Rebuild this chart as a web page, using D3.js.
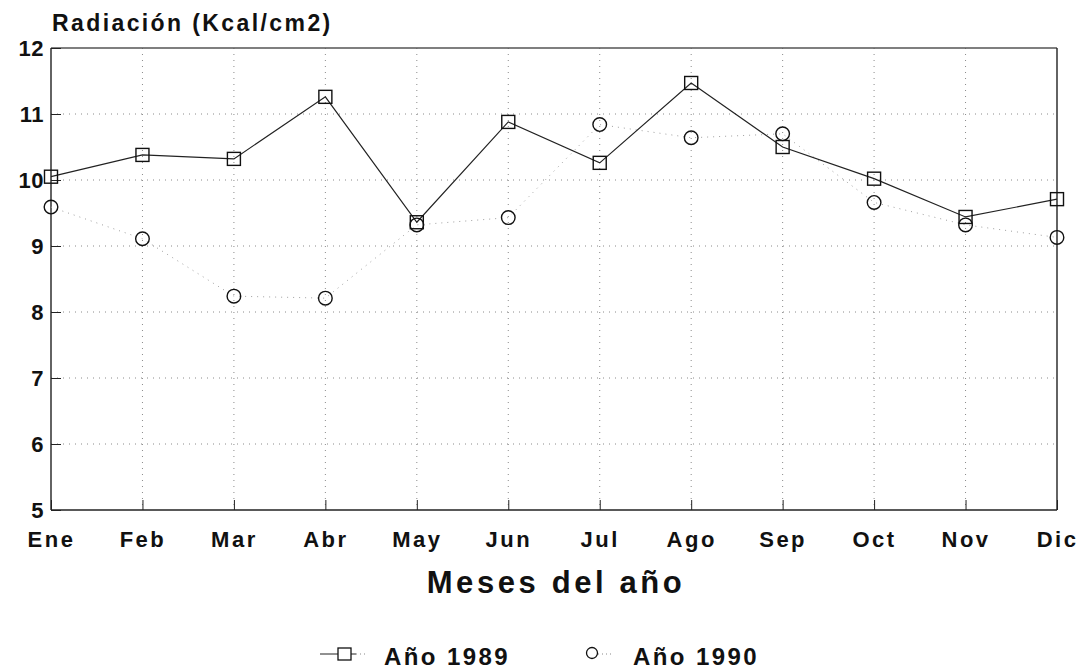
<!DOCTYPE html>
<html><head><meta charset="utf-8">
<script src="https://cdn.jsdelivr.net/npm/d3@7"></script>
<style>body{margin:0;background:#fff}svg{display:block}text{font-family:"Liberation Sans",Arial,sans-serif;fill:#111;font-weight:bold}</style>
</head><body><svg id="c" width="1079" height="669"></svg>
<script>
const months = ["Ene","Feb","Mar","Abr","May","Jun","Jul","Ago","Sep","Oct","Nov","Dic"];
const y1989 = [10.05,10.38,10.32,11.26,9.36,10.88,10.26,11.47,10.50,10.02,9.44,9.71];
const y1990 = [9.59,9.11,8.24,8.21,9.32,9.43,10.84,10.64,10.70,9.66,9.32,9.13];
const yTicks = [5,6,7,8,9,10,11,12];
const seriesNames = ["Año 1989","Año 1990"];

const svg = d3.select("#c");
const L=51,R=1057,T=48,B=510;
const x = d3.scalePoint().domain(months).range([L,R]);
const y = d3.scaleLinear().domain([5,12]).range([B,T]);

// grid
const g = svg.append("g").attr("stroke","#8a8a8a").attr("stroke-width",1).attr("stroke-dasharray","1,5");
g.selectAll(".gy").data(yTicks.slice(1,-1)).join("line")
  .attr("x1",L).attr("x2",R).attr("y1",d=>y(d)).attr("y2",d=>y(d));
g.selectAll(".gx").data(months.slice(1,-1)).join("line")
  .attr("y1",T).attr("y2",B).attr("x1",d=>x(d)).attr("x2",d=>x(d));

// frame
svg.append("line").attr("x1",L).attr("x2",R).attr("y1",T).attr("y2",T).attr("stroke","#555").attr("stroke-width",1.3);
svg.append("line").attr("x1",R).attr("x2",R).attr("y1",T).attr("y2",B).attr("stroke","#222").attr("stroke-width",1.4);
svg.append("line").attr("x1",L).attr("x2",L).attr("y1",T).attr("y2",B).attr("stroke","#222").attr("stroke-width",1.4);
svg.append("line").attr("x1",L).attr("x2",R).attr("y1",B).attr("y2",B).attr("stroke","#222").attr("stroke-width",1.4);

// axes
const ya = d3.axisLeft(y).tickValues(yTicks).tickSize(-10).tickPadding(7).tickFormat(d3.format("d"));
svg.append("g").attr("transform",`translate(${L},0)`).call(ya)
  .call(s=>s.select(".domain").remove())
  .call(s=>s.selectAll("line").attr("stroke","#222"))
  .call(s=>s.selectAll("text").attr("font-size",22).attr("fill","#111").attr("letter-spacing",0.5));
const xa = d3.axisBottom(x).tickSize(-10).tickPadding(21);
svg.append("g").attr("transform",`translate(0,${B})`).call(xa)
  .call(s=>s.select(".domain").remove())
  .call(s=>s.selectAll("line").attr("stroke","#222"))
  .call(s=>s.selectAll("text").attr("font-size",22).attr("fill","#111").attr("letter-spacing",2.5));

svg.append("text").attr("x",52).attr("y",31).attr("font-size",23).attr("letter-spacing",2.4).text("Radiación (Kcal/cm2)");
svg.append("text").attr("x",(L+R)/2+2).attr("y",593).attr("text-anchor","middle").attr("font-size",31).attr("letter-spacing",3.6).text("Meses del año");

// 1990 faint dotted line
const line = d3.line().x((d,i)=>x(months[i])).y(d=>y(d));
svg.append("path").datum(y1990).attr("d",line).attr("fill","none")
  .attr("stroke","#a0a0a0").attr("stroke-width",1).attr("stroke-dasharray","1,5");
// 1989 line
svg.append("path").datum(y1989).attr("d",line).attr("fill","none")
  .attr("stroke","#222").attr("stroke-width",1.2);

const sq=13;
svg.selectAll(".s89").data(y1989).join("rect")
  .attr("x",(d,i)=>x(months[i])-sq/2).attr("y",d=>y(d)-sq/2).attr("width",sq).attr("height",sq)
  .attr("fill","none").attr("stroke","#111").attr("stroke-width",1.4);
svg.selectAll(".c90").data(y1990).join("circle")
  .attr("cx",(d,i)=>x(months[i])).attr("cy",d=>y(d)).attr("r",6.8)
  .attr("fill","none").attr("stroke","#111").attr("stroke-width",1.4);

// legend
const lg = svg.append("g");
lg.append("line").attr("x1",320).attr("x2",356).attr("y1",654).attr("y2",654).attr("stroke","#222");
lg.append("line").attr("x1",356).attr("x2",368).attr("y1",654).attr("y2",654).attr("stroke","#888").attr("stroke-dasharray","1,3");
lg.append("rect").attr("x",338).attr("y",648).attr("width",13).attr("height",12).attr("fill","#fff").attr("stroke","#111").attr("stroke-width",1.3);
lg.append("text").attr("x",384).attr("y",665).attr("font-size",24).attr("letter-spacing",2.4).text(seriesNames[0]);
lg.append("line").attr("x1",598).attr("x2",612).attr("y1",654).attr("y2",654).attr("stroke","#888").attr("stroke-dasharray","1,3");
lg.append("circle").attr("cx",592).attr("cy",653).attr("r",5.5).attr("fill","#fff").attr("stroke","#111").attr("stroke-width",1.3);
lg.append("text").attr("x",633).attr("y",665).attr("font-size",24).attr("letter-spacing",2.4).text(seriesNames[1]);
</script></body></html>
